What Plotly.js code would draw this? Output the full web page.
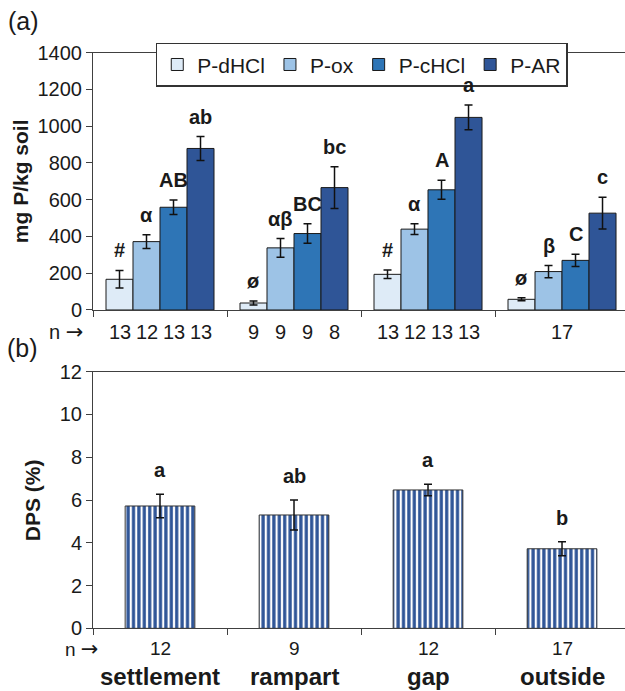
<!DOCTYPE html>
<html><head><meta charset="utf-8">
<script src="https://cdn.plot.ly/plotly-3.0.1.min.js"></script>
<style>html,body{margin:0;padding:0;background:#fff}#chart{width:625px;height:691px}</style>
</head><body><div id="chart"></div>
<script>
// ---- data ----
const sites = ["settlement", "rampart", "gap", "outside"];
const fractions = ["P-dHCl", "P-ox", "P-cHCl", "P-AR"];
const fracColors = ["#deebf7", "#9dc3e6", "#2e75b6", "#2f5597"];
const pDHCl = [167, 38, 194, 58];
const pDHClErr = [48, 11, 23, 8];
const pOx = [372, 338, 440, 209];
const pOxErr = [38, 51, 29, 33];
const pCHCl = [559, 416, 654, 270];
const pCHClErr = [39, 53, 52, 33];
const pAR = [879, 666, 1048, 527];
const pARErr = [65, 114, 67, 86];
const lettersDHCl = ["#", "ø", "#", "ø"];
const lettersOx = ["α", "αβ", "α", "β"];
const lettersCHCl = ["AB", "BC", "A", "C"];
const lettersAR = ["ab", "bc", "a", "c"];
const nTop = [["13","12","13","13"], ["9","9","9","8"], ["13","12","13","13"], ["","","",""]];
const nTopGroup = ["", "", "", "17"];
const dps = [5.72, 5.30, 6.47, 3.72];
const dpsErr = [0.55, 0.70, 0.27, 0.33];
const dpsLetters = ["a", "ab", "a", "b"];
const nDps = ["12", "9", "12", "17"];

const values = [pDHCl, pOx, pCHCl, pAR];
const errs = [pDHClErr, pOxErr, pCHClErr, pARErr];
const letters = [lettersDHCl, lettersOx, lettersCHCl, lettersAR];

const FONT = "Liberation Sans, Arial, sans-serif";
const TXT = "#1a1a1a";
const bargap = 0.194;
const bw = (1 - bargap) / 4;
const xIdx = sites.map((s, i) => i);

function ann(o) {
  return Object.assign({showarrow: false, xanchor: "center", yanchor: "middle"}, o);
}

const traces = [];
const annotations = [];
fractions.forEach((f, k) => {
  traces.push({
    type: "bar", name: f, x: xIdx, y: values[k],
    xaxis: "x", yaxis: "y",
    marker: {color: fracColors[k], line: {color: "#1a1a1a", width: 1}},
    error_y: {type: "data", array: errs[k], visible: true, color: "#111", thickness: 1.5, width: 4},
    hoverinfo: "skip"
  });
  xIdx.forEach(g => {
    const xc = g + (k - 1.5) * bw;
    annotations.push(ann({xref: "x", yref: "y", x: xc, y: values[k][g] + errs[k][g],
      text: "<b>" + letters[k][g] + "</b>", yanchor: "bottom", yshift: 7,
      font: {family: FONT, size: 20, color: TXT}}));
    if (nTop[g][k]) annotations.push(ann({xref: "x", yref: "paper", x: xc, y: 0.5195,
      text: nTop[g][k], font: {family: FONT, size: 20, color: TXT}}));
  });
});
xIdx.forEach(g => {
  if (nTopGroup[g]) annotations.push(ann({xref: "x", yref: "paper", x: g, y: 0.5195,
    text: nTopGroup[g], font: {family: FONT, size: 20, color: TXT}}));
});

traces.push({
  type: "bar", name: "DPS", x: xIdx, y: dps, xaxis: "x2", yaxis: "y2", showlegend: false,
  width: 0.52,
  marker: {color: "#ffffff", line: {color: "#333", width: 1},
    pattern: {shape: "|", fgcolor: "#2f5597", fgopacity: 1, bgcolor: "#ffffff", size: 5.4, solidity: 0.6, fillmode: "overlay"}},
  error_y: {type: "data", array: dpsErr, visible: true, color: "#111", thickness: 1.5, width: 4},
  hoverinfo: "skip"
});
xIdx.forEach(g => {
  annotations.push(ann({xref: "x2", yref: "y2", x: g, y: dps[g] + dpsErr[g],
    text: "<b>" + dpsLetters[g] + "</b>", yanchor: "bottom", yshift: 11,
    font: {family: FONT, size: 20, color: TXT}}));
  annotations.push(ann({xref: "x2", yref: "paper", x: g, y: 0.061,
    text: nDps[g], font: {family: FONT, size: 19, color: TXT}}));
  annotations.push(ann({xref: "x2", yref: "paper", x: g, y: 0.0203,
    text: "<b>" + sites[g] + "</b>", font: {family: FONT, size: 24, color: TXT}}));
});

const arrowTxt = 'n <span style="font-family:DejaVu Sans;font-size:21px">→</span>';
annotations.push(
  ann({xref: "paper", yref: "paper", x: -0.1297, y: 0.970, text: "(a)", font: {family: FONT, size: 25, color: TXT}}),
  ann({xref: "paper", yref: "paper", x: -0.133, y: 0.4964, text: "(b)", font: {family: FONT, size: 25, color: TXT}}),
  ann({xref: "paper", yref: "paper", x: -0.137, y: 0.738, text: "<b>mg P/kg soil</b>", textangle: -90, font: {family: FONT, size: 21, color: TXT}}),
  ann({xref: "paper", yref: "paper", x: -0.1147, y: 0.276, text: "<b>DPS (%)</b>", textangle: -90, font: {family: FONT, size: 21, color: TXT}}),
  ann({xref: "paper", yref: "paper", x: -0.0508, y: 0.5195, text: arrowTxt, font: {family: FONT, size: 20, color: TXT}}),
  ann({xref: "paper", yref: "paper", x: -0.0207, y: 0.061, text: arrowTxt, font: {family: FONT, size: 19, color: TXT}})
);

const xCommon = {
  range: [-0.5, 3.47], tickvals: [-0.5, 0.5, 1.5, 2.5], ticktext: ["", "", "", ""],
  ticks: "outside", ticklen: 6, tickcolor: "#404040", showline: true, linecolor: "#404040", linewidth: 1,
  mirror: true, showgrid: false, zeroline: false, fixedrange: true
};
const yCommon = {
  ticks: "outside", ticklen: 6, tickcolor: "#404040", showline: true, linecolor: "#404040", linewidth: 1,
  showgrid: false, zeroline: false, tickfont: {family: FONT, size: 20, color: TXT}, fixedrange: true
};

const layout = {
  width: 625, height: 691,
  margin: {l: 93, r: 0, t: 0, b: 0},
  paper_bgcolor: "#fff", plot_bgcolor: "#fff",
  barmode: "group", bargap: bargap, bargroupgap: 0,
  showlegend: true,
  legend: {orientation: "h", x: 0.118, y: 0.938, xanchor: "left", yanchor: "top",
    bgcolor: "#fff", bordercolor: "#333", borderwidth: 1.5,
    font: {family: FONT, size: 21, color: TXT}, itemwidth: 30, traceorder: "normal"},
  xaxis: Object.assign({}, xCommon, {anchor: "y", domain: [0, 1]}),
  yaxis: Object.assign({}, yCommon, {anchor: "x", domain: [0.5514, 0.9237], range: [0, 1400], dtick: 200}),
  xaxis2: Object.assign({}, xCommon, {anchor: "y2", domain: [0, 1]}),
  yaxis2: Object.assign({}, yCommon, {anchor: "x2", domain: [0.0907, 0.4621], range: [0, 12], dtick: 2}),
  annotations: annotations
};

Plotly.newPlot("chart", traces, layout, {displayModeBar: false, staticPlot: true});
</script></body></html>
